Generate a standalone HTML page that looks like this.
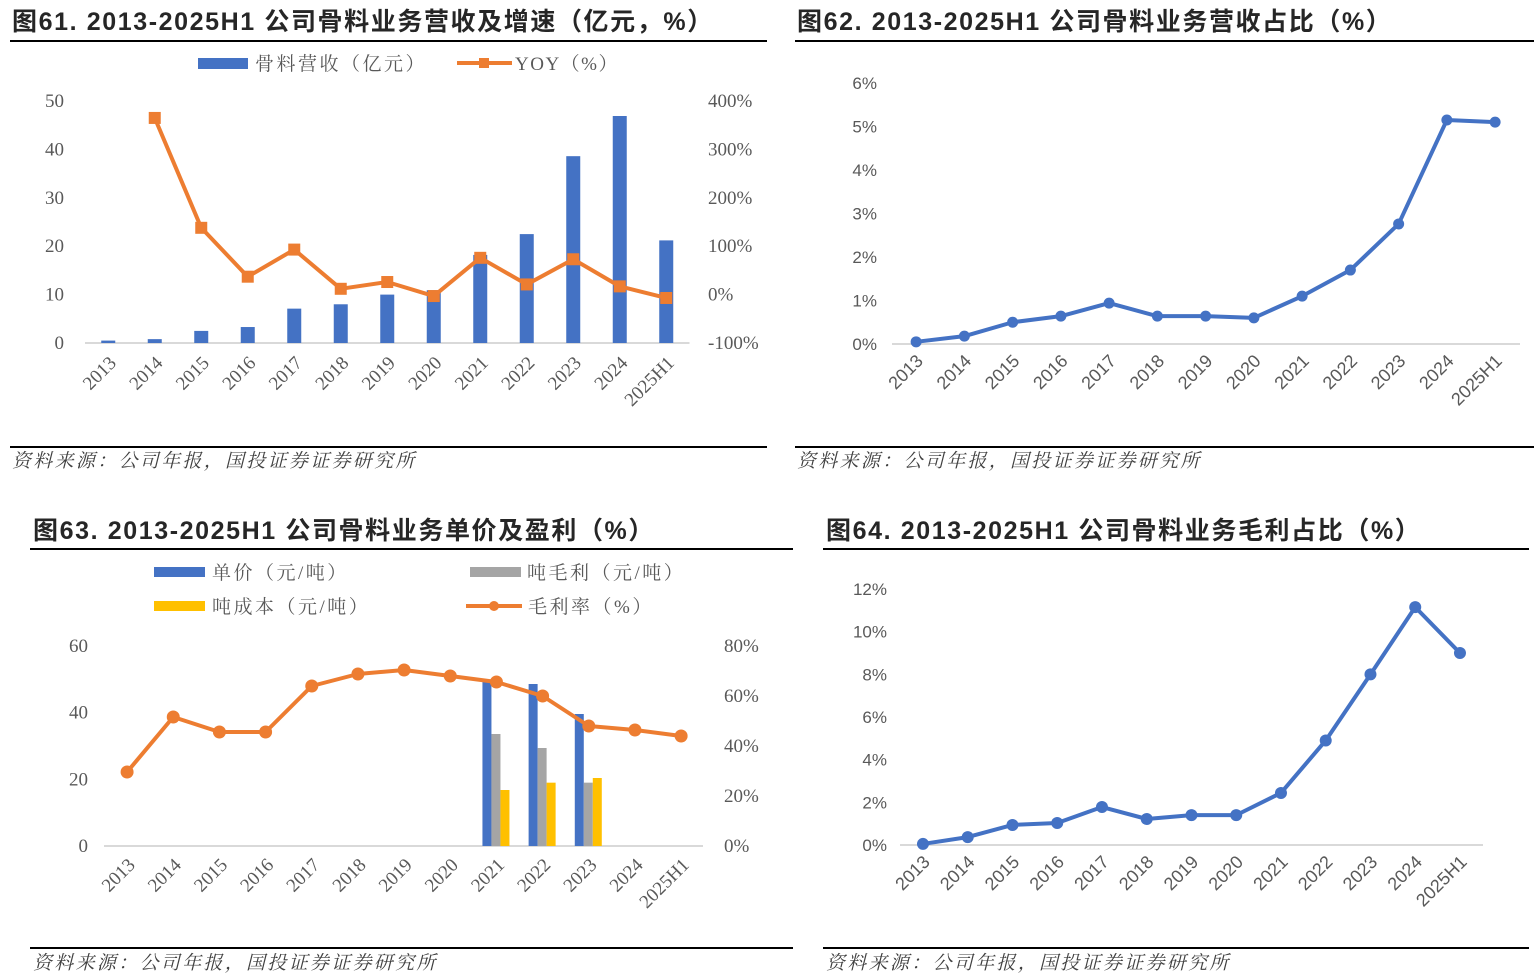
<!DOCTYPE html>
<html><head><meta charset="utf-8">
<style>
html,body{margin:0;padding:0;background:#fff;}
body{width:1534px;height:978px;overflow:hidden;position:relative;}
svg{position:absolute;left:0;top:0;}
</style></head>
<body>
<svg id="s" width="1534" height="978" viewBox="0 0 1534 978" xmlns="http://www.w3.org/2000/svg">
<g font-family="'Liberation Sans','Noto Sans CJK SC',sans-serif" font-weight="bold" font-size="25" fill="#262626" letter-spacing="1.6">
<text x="12" y="30">图61. 2013-2025H1 公司骨料业务营收及增速（亿元，%）</text>
<text x="797" y="30">图62. 2013-2025H1 公司骨料业务营收占比（%）</text>
<text x="33" y="539">图63. 2013-2025H1 公司骨料业务单价及盈利（%）</text>
<text x="826" y="539">图64. 2013-2025H1 公司骨料业务毛利占比（%）</text>
</g>
<g stroke="#000" stroke-width="2">
<line x1="10" y1="41" x2="767" y2="41"/>
<line x1="795" y1="41" x2="1534" y2="41"/>
<line x1="10" y1="447" x2="767" y2="447"/>
<line x1="795" y1="447" x2="1534" y2="447"/>
<line x1="30" y1="549" x2="793" y2="549"/>
<line x1="823" y1="549" x2="1529" y2="549"/>
<line x1="30" y1="948" x2="793" y2="948"/>
<line x1="823" y1="948" x2="1529" y2="948"/>
</g>
<g font-family="'Liberation Serif','Noto Serif CJK SC',serif" font-style="italic" font-size="19" fill="#404040" letter-spacing="2.3">
<text x="12" y="467">资料来源：公司年报，国投证券证券研究所</text>
<text x="797" y="467">资料来源：公司年报，国投证券证券研究所</text>
<text x="33" y="969">资料来源：公司年报，国投证券证券研究所</text>
<text x="826" y="969">资料来源：公司年报，国投证券证券研究所</text>
</g>
<g id="charts"></g>
</svg>
<script>
const categories = ["2013","2014","2015","2016","2017","2018","2019","2020","2021","2022","2023","2024","2025H1"];
// Fig61
const revenue = [0.5,0.8,2.5,3.3,7.1,8.0,10.0,10.9,18.2,22.5,38.6,46.9,21.2];
const revenueYoy = [null,365,138,37,93,12,26,-3,76,21,73,17,-7];
const fig61LeftTicks = [0,10,20,30,40,50];
const fig61RightTicks = ["-100%","0%","100%","200%","300%","400%"];
// Fig62
const revenueShare = [0.05,0.18,0.5,0.64,0.94,0.64,0.64,0.6,1.1,1.7,2.76,5.15,5.1];
const fig62Ticks = [0,1,2,3,4,5,6];
// Fig63
const unitPrice = [null,null,null,null,null,null,null,null,49.8,48.6,39.6,null,null];
const unitProfit = [null,null,null,null,null,null,null,null,33.6,29.4,19.0,null,null];
const unitCost = [null,null,null,null,null,null,null,null,16.8,19.0,20.4,null,null];
const grossMargin = [29.6,51.6,45.6,45.6,64,68.8,70.4,68,65.6,60,48,46.4,44];
const fig63LeftTicks = [0,20,40,60];
const fig63RightTicks = [0,20,40,60,80];
// Fig64
const profitShare = [0.05,0.37,0.94,1.03,1.78,1.22,1.4,1.4,2.44,4.9,8.0,11.15,9.0];
const fig64Ticks = [0,2,4,6,8,10,12];

const NS="http://www.w3.org/2000/svg";
const root=document.getElementById('charts');
function mk(tag,attrs,parent,text){const e=document.createElementNS(NS,tag);for(const k in attrs)e.setAttribute(k,attrs[k]);if(text!==undefined)e.textContent=text;(parent||root).appendChild(e);return e;}
const BLUE="#4472C4",ORANGE="#ED7D31",GRAY="#A5A5A5",YEL="#FFC000",TXT="#595959";
const SERIF="'Liberation Serif','Noto Serif CJK SC',serif", SANS="'Liberation Sans','Noto Sans CJK SC',sans-serif";

function xLabels(g,xf,y,font,size,dx){
  categories.forEach((c,i)=>{
    const x=xf(i)+dx;
    const t=mk('text',{x:x,y:y,'text-anchor':'end','font-family':font,'font-size':size,fill:TXT,transform:`rotate(-45 ${x} ${y})`},g,c);
    
    
  });
}
function linePts(vals,xf,yf){return vals.map((v,i)=>v==null?null:[xf(i),yf(v)]).filter(p=>p);}

// ---------- Fig61 ----------
(function(){
  const g=mk('g',{});
  const x0=85,step=46.5,xf=i=>x0+step*(i+0.5);
  const y0=343,yTop=101,yf=v=>y0-(v/50)*(y0-yTop);
  const yr=v=>y0-((v+100)/500)*(y0-yTop);
  fig61LeftTicks.forEach(t=>{const e=mk('text',{x:64,y:yf(t)+6,'text-anchor':'end','font-family':SERIF,'font-size':19,fill:TXT},g,String(t));});
  fig61RightTicks.forEach((t,i)=>{const e=mk('text',{x:708,y:yr(-100+i*100)+6,'font-family':SERIF,'font-size':19,fill:TXT},g,t);});
  const ax=mk('line',{x1:x0,y1:y0,x2:x0+step*13,y2:y0,stroke:'#D9D9D9','stroke-width':2},g);
  revenue.forEach((v,i)=>{const r=mk('rect',{x:xf(i)-7,y:yf(v),width:14,height:y0-yf(v),fill:BLUE},g);});
  const pts=linePts(revenueYoy,xf,yr);
  const pl=mk('polyline',{points:pts.map(p=>p.join(',')).join(' '),fill:'none',stroke:ORANGE,'stroke-width':4,'stroke-linejoin':'round'},g);
  pts.forEach(p=>{const m=mk('rect',{x:p[0]-6,y:p[1]-6,width:12,height:12,fill:ORANGE},g);});
  xLabels(g,xf,364,SERIF,19,9);
  const l1=mk('rect',{x:198,y:58,width:50,height:11,fill:BLUE},g);
  const t1=mk('text',{x:255,y:70,'font-family':SERIF,'font-size':19,fill:TXT,'letter-spacing':2.5},g,'骨料营收（亿元）');
  const l2=mk('line',{x1:457,y1:63,x2:512,y2:63,stroke:ORANGE,'stroke-width':4},g);
  mk('rect',{x:479,y:58,width:10,height:10,fill:ORANGE},g);
  const t2=mk('text',{x:515,y:70,'font-family':SERIF,'font-size':19,fill:TXT,'letter-spacing':1.5},g,'YOY（%）');
})();

// ---------- Fig62 ----------
(function(){
  const g=mk('g',{});
  const x0=892,step=48.25,xf=i=>x0+step*(i+0.5);
  const y0=344,yTop=83,yf=v=>y0-(v/6)*(y0-yTop);
  fig62Ticks.forEach(t=>{const e=mk('text',{x:877,y:yf(t)+6,'text-anchor':'end','font-family':SANS,'font-size':17,fill:TXT},g,t+'%');});
  const ax=mk('line',{x1:x0,y1:y0,x2:1520,y2:y0,stroke:'#D9D9D9','stroke-width':2},g);
  const pts=linePts(revenueShare,xf,yf);
  const pl=mk('polyline',{points:pts.map(p=>p.join(',')).join(' '),fill:'none',stroke:BLUE,'stroke-width':4,'stroke-linejoin':'round'},g);
  pts.forEach(p=>{const m=mk('circle',{cx:p[0],cy:p[1],r:5.5,fill:BLUE},g);});
  xLabels(g,xf,362,SANS,18,8);
})();

// ---------- Fig63 ----------
(function(){
  const g=mk('g',{});
  const x0=104,step=46.17,xf=i=>x0+step*(i+0.5);
  const y0=846,yTop=646,yf=v=>y0-(v/60)*(y0-yTop), yr=v=>y0-(v/80)*(y0-yTop);
  fig63LeftTicks.forEach(t=>{const e=mk('text',{x:88,y:yf(t)+6,'text-anchor':'end','font-family':SERIF,'font-size':19,fill:TXT},g,String(t));});
  fig63RightTicks.forEach(t=>{const e=mk('text',{x:724,y:yr(t)+6,'font-family':SERIF,'font-size':19,fill:TXT},g,t+'%');});
  const ax=mk('line',{x1:x0,y1:y0,x2:703,y2:y0,stroke:'#D9D9D9','stroke-width':2},g);
  [[unitPrice,BLUE,-14,'unit-price-bar'],[unitProfit,GRAY,-5,'unit-profit-bar'],[unitCost,YEL,4,'unit-cost-bar']].forEach(([arr,col,off,nm])=>{
    arr.forEach((v,i)=>{if(v==null)return;const r=mk('rect',{x:xf(i)+off,y:yf(v),width:9,height:y0-yf(v),fill:col},g);});
  });
  const pts=linePts(grossMargin,xf,yr);
  const pl=mk('polyline',{points:pts.map(p=>p.join(',')).join(' '),fill:'none',stroke:ORANGE,'stroke-width':4,'stroke-linejoin':'round'},g);
  pts.forEach(p=>{const m=mk('circle',{cx:p[0],cy:p[1],r:6.5,fill:ORANGE},g);});
  xLabels(g,xf,866,SERIF,19,9);
  const leg=[[154,567,BLUE,212,'单价（元/吨）','legend-unit-price'],[470,567,GRAY,527,'吨毛利（元/吨）','legend-unit-profit'],[154,601,YEL,212,'吨成本（元/吨）','legend-unit-cost']];
  leg.forEach(([x,y,c,tx,t,nm])=>{const r=mk('rect',{x:x,y:y,width:51,height:10,fill:c},g);
    const e=mk('text',{x:tx,y:y+12,'font-family':SERIF,'font-size':19,fill:TXT,'letter-spacing':2.5},g,t);});
  const l=mk('line',{x1:466,y1:606,x2:522,y2:606,stroke:ORANGE,'stroke-width':4},g);
  mk('circle',{cx:494,cy:606,r:5,fill:ORANGE},g);
  const e=mk('text',{x:528,y:613,'font-family':SERIF,'font-size':19,fill:TXT,'letter-spacing':2.5},g,'毛利率（%）');
})();

// ---------- Fig64 ----------
(function(){
  const g=mk('g',{});
  const x0=900.6,step=44.75,xf=i=>x0+step*(i+0.5);
  const y0=845,yTop=589,yf=v=>y0-(v/12)*(y0-yTop);
  fig64Ticks.forEach(t=>{const e=mk('text',{x:887,y:yf(t)+6,'text-anchor':'end','font-family':SANS,'font-size':17,fill:TXT},g,t+'%');});
  const ax=mk('line',{x1:900,y1:y0,x2:1483,y2:y0,stroke:'#D9D9D9','stroke-width':2},g);
  const pts=linePts(profitShare,xf,yf);
  const pl=mk('polyline',{points:pts.map(p=>p.join(',')).join(' '),fill:'none',stroke:BLUE,'stroke-width':4,'stroke-linejoin':'round'},g);
  pts.forEach(p=>{const m=mk('circle',{cx:p[0],cy:p[1],r:6,fill:BLUE},g);});
  xLabels(g,xf,863,SANS,18,8);
})();
</script>
</body></html>
